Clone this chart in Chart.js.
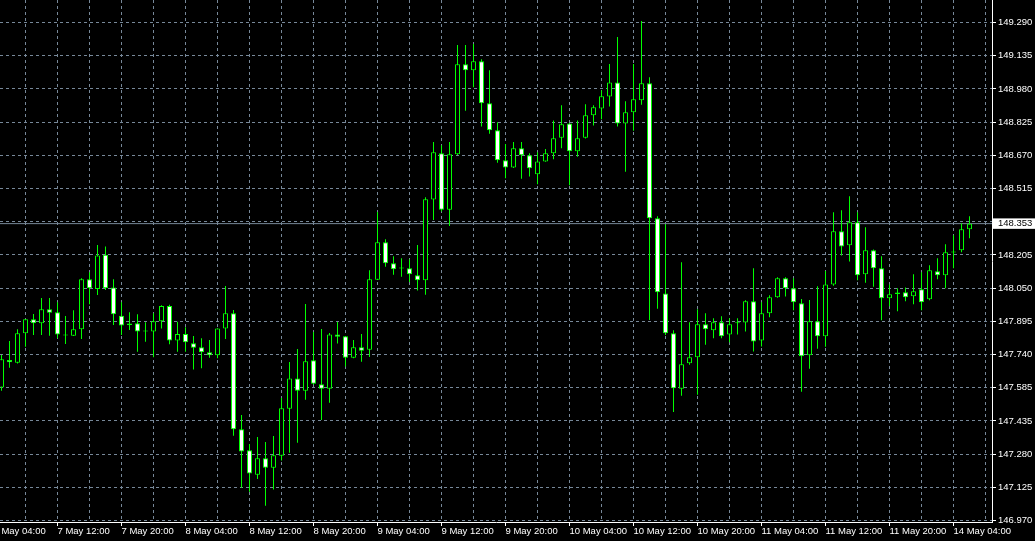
<!DOCTYPE html>
<html>
<head>
<meta charset="utf-8">
<script src="https://cdn.jsdelivr.net/npm/chart.js@4.4.1/dist/chart.umd.min.js"></script>
<style>
  html, body { margin: 0; padding: 0; background: #000; }
  canvas { display: block; }
</style>
</head>
<body>
<canvas id="chart" width="1035" height="541"></canvas>
<script>
// H1 candles, 7 May 05:00 .. 14 May 06:00
const opens = [
  147.590, 147.718, 147.705, 147.842, 147.907, 147.889, 147.954, 147.940, 147.834, 147.831,
  147.861, 148.094, 148.048, 148.208, 148.056, 147.924, 147.888, 147.889, 147.852, 147.851,
  147.898, 147.969, 147.808, 147.839, 147.796, 147.777, 147.754, 147.740, 147.864, 147.935,
  147.395, 147.297, 147.183, 147.260, 147.216, 147.272, 147.491, 147.632, 147.575, 147.716,
  147.605, 147.584, 147.837, 147.828, 147.728, 147.777, 147.766, 148.092, 148.266, 148.168,
  148.146, 148.145, 148.112, 148.089, 148.465, 148.681, 148.418, 148.676, 149.095, 149.067,
  149.109, 148.914, 148.788, 148.648, 148.615, 148.704, 148.671, 148.583, 148.643, 148.681,
  148.753, 148.820, 148.690, 148.753, 148.858, 148.889, 148.945, 149.011, 148.820, 148.872,
  148.928, 149.007, 148.378, 148.028, 147.842, 147.584, 147.702, 147.730, 147.884, 147.856,
  147.893, 147.837, 147.889, 147.892, 147.991, 147.809, 147.935, 148.010, 148.098, 148.052,
  147.982, 147.740, 147.898, 147.828, 148.069, 148.317, 148.252, 148.359, 148.117, 148.229,
  148.145, 148.005, 148.025, 148.033, 148.015, 148.047, 148.001, 148.131, 148.112, 148.218,
  148.229, 148.327
];
const highs = [
  147.741, 147.806, 147.861, 147.909, 147.932, 148.007, 148.007, 147.987, 147.923, 147.949,
  148.098, 148.126, 148.253, 148.246, 148.094, 147.987, 147.940, 147.931, 147.893, 147.935,
  147.973, 147.975, 147.896, 147.870, 147.830, 147.819, 147.811, 147.866, 148.062, 147.951,
  147.462, 147.326, 147.359, 147.336, 147.364, 147.541, 147.708, 147.769, 147.979, 147.848,
  147.862, 147.843, 147.895, 147.829, 147.811, 147.839, 148.136, 148.407, 148.280, 148.201,
  148.192, 148.187, 148.253, 148.476, 148.733, 148.718, 148.733, 149.185, 149.185, 149.190,
  149.119, 149.067, 148.825, 148.724, 148.733, 148.733, 148.681, 148.685, 148.701, 148.834,
  148.904, 148.822, 148.834, 148.909, 148.904, 148.974, 149.097, 149.222, 148.923, 149.097,
  149.297, 149.035, 148.387, 148.350, 147.856, 148.173, 147.893, 147.954, 147.935, 147.912,
  147.921, 147.912, 147.912, 147.996, 148.145, 147.987, 148.019, 148.103, 148.103, 148.098,
  148.002, 147.997, 148.061, 148.132, 148.406, 148.415, 148.480, 148.406, 148.336, 148.233,
  148.201, 148.070, 148.052, 148.056, 148.117, 148.126, 148.159, 148.192, 148.257, 148.299,
  148.355, 148.387
];
const lows = [
  147.575, 147.682, 147.701, 147.780, 147.834, 147.834, 147.831, 147.819, 147.792, 147.829,
  147.816, 147.977, 148.020, 148.044, 147.881, 147.834, 147.858, 147.756, 147.803, 147.730,
  147.865, 147.791, 147.756, 147.756, 147.674, 147.679, 147.728, 147.726, 147.816, 147.365,
  147.123, 147.104, 147.163, 147.039, 147.114, 147.249, 147.286, 147.332, 147.533, 147.603,
  147.438, 147.519, 147.794, 147.687, 147.726, 147.710, 147.732, 148.090, 148.152, 148.115,
  148.106, 148.081, 148.041, 148.022, 148.370, 148.409, 148.342, 148.673, 148.879, 148.988,
  148.805, 148.772, 148.637, 148.564, 148.612, 148.562, 148.572, 148.536, 148.641, 148.653,
  148.704, 148.532, 148.665, 148.749, 148.810, 148.839, 148.899, 148.805, 148.595, 148.786,
  148.907, 147.904, 147.957, 147.834, 147.476, 147.551, 147.696, 147.556, 147.789, 147.819,
  147.819, 147.800, 147.837, 147.851, 147.757, 147.781, 147.917, 148.008, 148.013, 147.949,
  147.570, 147.677, 147.770, 147.780, 148.064, 148.204, 148.176, 148.089, 148.078, 148.059,
  147.903, 147.968, 147.945, 147.991, 147.977, 147.949, 147.996, 148.094, 148.052, 148.145,
  148.220, 148.285
];
const closes = [
  147.721, 147.707, 147.842, 147.907, 147.889, 147.954, 147.938, 147.837, 147.832, 147.861,
  148.094, 148.052, 148.204, 148.052, 147.931, 147.879, 147.881, 147.851, 147.850, 147.898,
  147.969, 147.808, 147.839, 147.800, 147.775, 147.754, 147.740, 147.865, 147.935, 147.395,
  147.291, 147.189, 147.260, 147.216, 147.274, 147.493, 147.632, 147.575, 147.712, 147.607,
  147.584, 147.837, 147.826, 147.728, 147.777, 147.761, 148.094, 148.266, 148.168, 148.140,
  148.144, 148.117, 148.089, 148.466, 148.685, 148.418, 148.676, 149.095, 149.067, 149.109,
  148.914, 148.788, 148.648, 148.615, 148.704, 148.671, 148.611, 148.643, 148.681, 148.751,
  148.816, 148.690, 148.751, 148.858, 148.895, 148.946, 149.011, 148.820, 148.872, 148.932,
  149.007, 148.378, 148.033, 147.842, 147.586, 147.698, 147.730, 147.884, 147.861, 147.893,
  147.828, 147.884, 147.892, 147.991, 147.804, 147.935, 148.010, 148.098, 148.052, 147.987,
  147.735, 147.898, 147.828, 148.070, 148.317, 148.247, 148.359, 148.112, 148.229, 148.145,
  148.005, 148.024, 148.032, 148.010, 148.038, 147.987, 148.136, 148.112, 148.220, 148.222,
  148.327, 148.353
];

// time labels, one every 8 bars, the first one sits on bar -1
const xTickLabels = [
  '7 May 04:00', '7 May 12:00', '7 May 20:00', '8 May 04:00', '8 May 12:00', '8 May 20:00',
  '9 May 04:00', '9 May 12:00', '9 May 20:00', '10 May 04:00', '10 May 12:00', '10 May 20:00',
  '11 May 04:00', '11 May 12:00', '11 May 20:00', '14 May 04:00'
];
const yTickLabels = [
  '149.290', '149.135', '148.980', '148.825', '148.670', '148.515', '148.205', '148.050',
  '147.895', '147.740', '147.585', '147.435', '147.280', '147.125', '146.970'
];

const GRID = '#778899';
const BULL = '#00ff00';
const FONT = { family: 'Liberation Sans', size: 9.5 };

const lastClose = closes[closes.length - 1];
const xMin = -0.1875, xMax = 123.8125;
const yTop = 149.3948, yBottom = 146.9630;

// horizontal grid: 16 even steps between the first and last price label
const yFirst = parseFloat(yTickLabels[0]);
const yLast = parseFloat(yTickLabels[yTickLabels.length - 1]);
const yGrid = [];
for (let j = 0; j <= 15; j++) yGrid.push(yFirst - (yFirst - yLast) * j / 15);

const isPrice = v => v === lastClose;
const yLabelFor = v => {
  if (isPrice(v)) return lastClose.toFixed(3);
  const hit = yTickLabels.find(s => Math.abs(parseFloat(s) - v) < 0.006);
  return hit || '';
};
const xLabelFor = v => ((v + 1) % 8 === 0 ? xTickLabels[(v + 1) / 8] || '' : '');

const idx = opens.map((_, i) => i);
const wickData = idx.map(i => ({ x: i, y: [lows[i], highs[i]] }));
const bodyData = idx.map(i => ({ x: i, y: [opens[i], closes[i]] }));
const bodyFill = idx.map(i => (closes[i] >= opens[i] ? '#000000' : '#ffffff'));

new Chart(document.getElementById('chart'), {
  type: 'bar',
  data: {
    datasets: [
      {
        data: bodyData,
        backgroundColor: bodyFill,
        borderColor: BULL,
        borderWidth: 1,
        borderSkipped: false,
        barThickness: 5,
        minBarLength: 1,
        inflateAmount: 0,
        grouped: false,
        order: 0
      },
      {
        data: wickData,
        backgroundColor: BULL,
        borderWidth: 0,
        barThickness: 1,
        inflateAmount: 0,
        grouped: false,
        order: 1
      },
      {
        type: 'line',
        data: [{ x: xMin, y: lastClose }, { x: xMax, y: lastClose }],
        borderColor: GRID,
        borderWidth: 1,
        pointRadius: 0,
        order: 2
      }
    ]
  },
  options: {
    responsive: false,
    devicePixelRatio: 1,
    animation: false,
    layout: { padding: 0 },
    plugins: { legend: { display: false }, tooltip: { enabled: false } },
    scales: {
      x: {
        type: 'linear',
        position: 'bottom',
        min: xMin,
        max: xMax,
        bounds: 'data',
        offset: false,
        afterBuildTicks: scale => {
          const t = [];
          for (let v = -1; v <= xMax; v += 4) t.push({ value: v });
          scale.ticks = t;
        },
        afterFit: scale => {
          scale.height = 19;
          scale.paddingLeft = 0;
          scale.paddingRight = 0;
        },
        ticks: {
          autoSkip: false,
          maxRotation: 0,
          minRotation: 0,
          align: 'start',
          padding: 0,
          color: '#ffffff',
          font: FONT,
          callback: v => xLabelFor(v)
        },
        grid: {
          offset: false,
          color: GRID,
          lineWidth: 1,
          tickLength: 4,
          tickWidth: 1,
          tickColor: ctx => (ctx.tick && xLabelFor(ctx.tick.value) ? '#ffffff' : 'rgba(0,0,0,0)')
        },
        border: { display: true, color: '#ffffff', width: 1, dash: [3, 3] }
      },
      y: {
        type: 'linear',
        position: 'right',
        min: yBottom,
        max: yTop,
        bounds: 'data',
        beginAtZero: false,
        afterBuildTicks: scale => {
          scale.ticks = yGrid.map(v => ({ value: v })).concat([{ value: lastClose }]);
        },
        afterFit: scale => {
          scale.width = 43;
          scale.paddingTop = 0;
          scale.paddingBottom = 0;
        },
        ticks: {
          autoSkip: false,
          padding: 2,
          color: ctx => (ctx.tick && isPrice(ctx.tick.value) ? '#000000' : '#ffffff'),
          font: { family: FONT.family, size: FONT.size, lineHeight: 1.1 },
          showLabelBackdrop: ctx => !!(ctx.tick && isPrice(ctx.tick.value)),
          backdropColor: '#ffffff',
          backdropPadding: { top: 0, bottom: 0, left: 5, right: 8 },
          callback: v => yLabelFor(v)
        },
        grid: {
          color: ctx => (ctx.tick && isPrice(ctx.tick.value) ? 'rgba(0,0,0,0)' : GRID),
          lineWidth: 1,
          tickLength: 4,
          tickWidth: 1,
          tickColor: ctx => (ctx.tick && isPrice(ctx.tick.value) ? 'rgba(0,0,0,0)' : '#ffffff')
        },
        border: { display: true, color: '#ffffff', width: 1, dash: [3, 3] }
      }
    }
  }
});
</script>
</body>
</html>
